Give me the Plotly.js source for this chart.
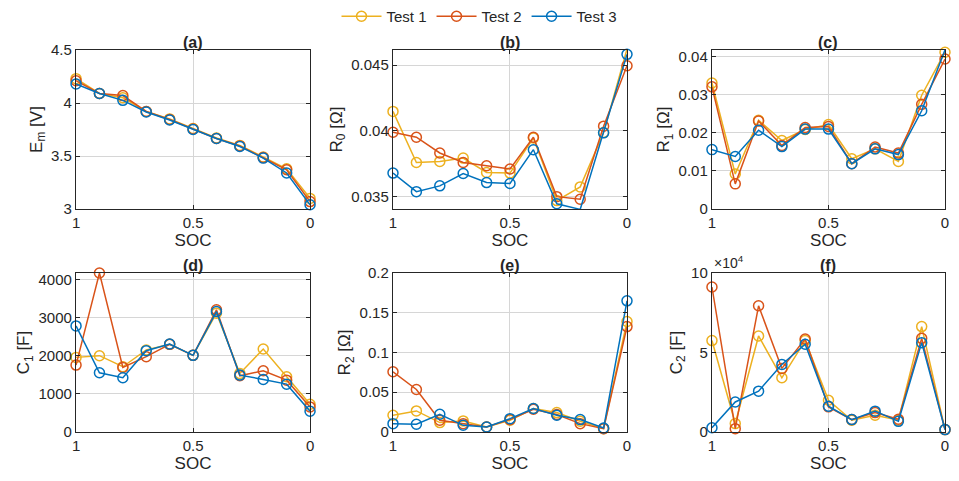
<!DOCTYPE html>
<html>
<head>
<meta charset="utf-8">
<script src="https://cdn.plot.ly/plotly-3.0.1.min.js"></script>
<style>
  html, body { margin: 0; padding: 0; background: #fff; }
  #chart_area { width: 959px; height: 481px; }
</style>
</head>
<body>
<div id="chart_area"></div>
<script>
// SOC points, shared by every panel
var soc = [1, 0.9, 0.8, 0.7, 0.6, 0.5, 0.4, 0.3, 0.2, 0.1, 0];
var testNames = ['Test 1', 'Test 2', 'Test 3'];

// (a) Em [V]
var em1 = [4.23, 4.09, 4.05, 3.92, 3.85, 3.76, 3.67, 3.60, 3.49, 3.38, 3.10];
var em2 = [4.21, 4.09, 4.07, 3.92, 3.845, 3.755, 3.665, 3.595, 3.485, 3.37, 3.07];
var em3 = [4.18, 4.09, 4.025, 3.915, 3.84, 3.75, 3.665, 3.59, 3.48, 3.34, 3.04];

// (b) R0 [Ohm]
var r0_1 = [0.04148, 0.0376, 0.03768, 0.03793, 0.03684, 0.03679, 0.03946, 0.0347, 0.03574, 0.03987, 0.04622];
var r0_2 = [0.0399, 0.03952, 0.03832, 0.0376, 0.03735, 0.0371, 0.03952, 0.0350, 0.0348, 0.04036, 0.04495];
var r0_3 = [0.03679, 0.03538, 0.03582, 0.03676, 0.03607, 0.0360, 0.03857, 0.03446, 0.03403, 0.03985, 0.04582];

// (c) R1 [Ohm]
var r1_1 = [0.0331, 0.0092, 0.0233, 0.0180, 0.0209, 0.0222, 0.0132, 0.0158, 0.0125, 0.0299, 0.0412];
var r1_2 = [0.0321, 0.0066, 0.0231, 0.0167, 0.0214, 0.0217, 0.0119, 0.0163, 0.0147, 0.0275, 0.0394];
var r1_3 = [0.0156, 0.0138, 0.0207, 0.0164, 0.0210, 0.0210, 0.0119, 0.0158, 0.0143, 0.0258, 0.0418];

// (d) C1 [F]
var c1_1 = [1960, 2004, 1714, 2154, 2303, 2013, 3121, 1538, 2180, 1450, 730];
var c1_2 = [1758, 4175, 1697, 1978, 2303, 2013, 3208, 1477, 1609, 1362, 659];
var c1_3 = [2786, 1556, 1424, 2136, 2312, 2013, 3164, 1494, 1380, 1257, 545];

// (e) R2 [Ohm]
var r2_1 = [0.021, 0.0265, 0.0118, 0.0139, 0.0063, 0.0147, 0.0295, 0.0244, 0.0135, 0.0042, 0.139];
var r2_2 = [0.0758, 0.0535, 0.0147, 0.0105, 0.0063, 0.0156, 0.0286, 0.0219, 0.0105, 0.0042, 0.1326];
var r2_3 = [0.0105, 0.0097, 0.0223, 0.0084, 0.0063, 0.0168, 0.0295, 0.021, 0.0156, 0.005, 0.165];

// (f) C2 [F]
var c2_1 = [57500, 5300, 60400, 34100, 57500, 20000, 7400, 10500, 7400, 66300, 1500];
var c2_2 = [91200, 2100, 79400, 40000, 58500, 15800, 7800, 12200, 8000, 58900, 1500];
var c2_3 = [2700, 18900, 25700, 42500, 55200, 16200, 7800, 13100, 6700, 56200, 1500];

// y-axis ticks per panel
var emTicks = [3, 3.5, 4, 4.5];
var r0Ticks = [0.035, 0.04, 0.045];
var r1Ticks = [0, 0.01, 0.02, 0.03, 0.04];
var c1Ticks = [0, 1000, 2000, 3000, 4000];
var r2Ticks = [0, 0.05, 0.1, 0.15, 0.2];
var c2Ticks = [0, 50000, 100000];
var c2TickText = ['0', '5', '10'];

var colors = ['#EDB120', '#D95319', '#0072BD'];
var fontFamily = '"Liberation Sans", Arial, sans-serif';
var textColor = '#262626';

var panels = [
    { series: [em1, em2, em3], ticks: emTicks, range: [3, 4.5], title: 'E<sub>m</sub> [V]', label: '(a)' },
    { series: [r0_1, r0_2, r0_3], ticks: r0Ticks, range: [0.03406, 0.04615], title: 'R<sub>0</sub> [Ω]', label: '(b)' },
    { series: [r1_1, r1_2, r1_3], ticks: r1Ticks, range: [0, 0.04177], title: 'R<sub>1</sub> [Ω]', label: '(c)' },
    { series: [c1_1, c1_2, c1_3], ticks: c1Ticks, range: [0, 4176], title: 'C<sub>1</sub> [F]', label: '(d)' },
    { series: [r2_1, r2_2, r2_3], ticks: r2Ticks, range: [0, 0.2], title: 'R<sub>2</sub> [Ω]', label: '(e)' },
    { series: [c2_1, c2_2, c2_3], ticks: c2Ticks, tickText: c2TickText, range: [0, 100000], title: 'C<sub>2</sub> [F]', label: '(f)' }
];

// subplot positions (paper fractions)
var colDomains = [[0.0793, 0.3233], [0.4098, 0.6538], [0.7424, 0.9854]];
var rowDomains = [[0.5655, 0.8960], [0.1019, 0.4324]];

var data = [];
var layout = {
    width: 959,
    height: 481,
    margin: { l: 0, r: 0, t: 0, b: 0 },
    paper_bgcolor: '#ffffff',
    plot_bgcolor: '#ffffff',
    font: { family: fontFamily, size: 14, color: textColor },
    showlegend: true,
    legend: {
        orientation: 'h',
        x: 0.5, xanchor: 'center',
        y: 1.0, yanchor: 'top',
        font: { size: 15, color: textColor },
        itemwidth: 40,
        bgcolor: 'rgba(0,0,0,0)'
    },
    annotations: []
};

panels.forEach(function (p, i) {
    var n = i + 1;
    var xa = 'x' + (n === 1 ? '' : n);
    var ya = 'y' + (n === 1 ? '' : n);
    var col = colDomains[i % 3];
    var row = rowDomains[Math.floor(i / 3)];

    p.series.forEach(function (vals, k) {
        data.push({
            x: soc,
            y: vals,
            xaxis: xa,
            yaxis: ya,
            type: 'scatter',
            mode: 'lines+markers',
            name: testNames[k],
            legendgroup: testNames[k],
            showlegend: i === 0,
            cliponaxis: false,
            hoverinfo: 'none',
            line: { color: colors[k], width: 1.5 },
            marker: { symbol: 'circle-open', size: 10, color: colors[k], line: { width: 1.5, color: colors[k] } }
        });
    });

    var axisCommon = {
        showline: true,
        linecolor: textColor,
        linewidth: 1.2,
        mirror: 'ticks',
        ticks: 'inside',
        ticklen: 4,
        tickwidth: 1,
        tickcolor: textColor,
        showgrid: true,
        gridcolor: '#d6d6d6',
        gridwidth: 1,
        zeroline: false,
        tickfont: { size: 15, color: textColor }
    };

    layout['xaxis' + (n === 1 ? '' : n)] = Object.assign({}, axisCommon, {
        domain: col,
        anchor: ya,
        range: [1, 0],
        tickvals: [1, 0.5, 0],
        ticktext: ['1', '0.5', '0'],
        title: { text: 'SOC', font: { size: 17, color: textColor }, standoff: 3 }
    });

    layout['yaxis' + (n === 1 ? '' : n)] = Object.assign({}, axisCommon, {
        domain: row,
        anchor: xa,
        range: p.range,
        tickvals: p.ticks,
        ticktext: p.tickText || p.ticks.map(function (v) { return String(v); }),
        title: { text: p.title, font: { size: 17, color: textColor }, standoff: 4 }
    });

    layout.annotations.push({
        text: '<b>' + p.label + '</b>',
        xref: 'paper', yref: 'paper',
        x: (col[0] + col[1]) / 2, y: row[1],
        xanchor: 'center', yanchor: 'bottom',
        yshift: -3,
        showarrow: false,
        font: { size: 16, color: textColor }
    });
});

// exponent label for C2 panel
layout.annotations.push({
    text: '×10<sup>4</sup>',
    xref: 'paper', yref: 'paper',
    x: colDomains[2][0], y: rowDomains[1][1],
    xanchor: 'left', yanchor: 'bottom',
    showarrow: false,
    font: { size: 14, color: textColor }
});

var config = { displayModeBar: false, staticPlot: true };
Plotly.newPlot('chart_area', data, layout, config);
</script>
</body>
</html>
